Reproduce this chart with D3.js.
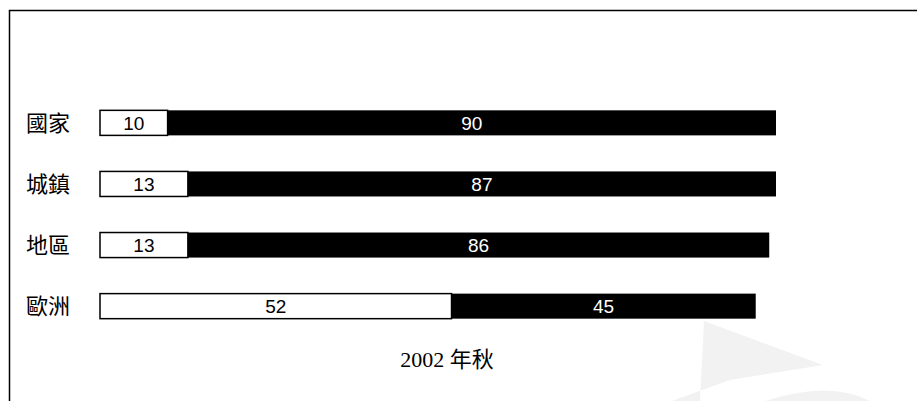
<!DOCTYPE html>
<meta charset="utf-8">
<style>
  body { margin: 0; background: #fff; }
</style>
<svg width="917" height="401"></svg>
<script src="https://d3js.org/d3.v7.min.js"></script>
<script>
  // data
  const categories = ['國家', '城鎮', '地區', '歐洲']
  const whiteValues = [10, 13, 13, 52]
  const blackValues = [90, 87, 86, 45]
  const title = '2002 年秋'

  const width = 917
  const height = 401

  const svg = d3.select('svg')
    .attr('width', width)
    .attr('height', height)

  // frame (right and bottom run off the picture)
  svg.append('path')
    .attr('d', 'M9.5,' + (height + 2) + 'V10.5H' + (width + 2))
    .attr('fill', 'none')
    .attr('stroke', '#000')
    .attr('stroke-width', 1.5)

  // faint watermark in the lower right
  const wm = svg.append('g').attr('fill', '#f2f2f2')
  wm.append('path').attr('d', 'M704,321 L823,365 L730,380 L672,401 L700,401 Z')
  wm.append('path').attr('d', 'M765,401 Q830,380 870,401 Z')

  const x = d3.scaleLinear()
    .domain([0, 100])
    .range([100, 776])

  const y = d3.scaleBand()
    .domain(categories)
    .range([92, 337])
    .paddingInner(0.59)
    .paddingOuter(0.3)

  const rows = categories.map((c, i) => ({ cat: c, w: whiteValues[i], b: blackValues[i] }))

  const row = svg.append('g')
    .selectAll('g')
    .data(rows)
    .enter().append('g')

  // category labels
  row.append('text')
    .attr('x', 26)
    .attr('y', d => y(d.cat) + y.bandwidth() / 2)
    .attr('dy', '0.36em')
    .attr('font-family', '"Noto Sans CJK TC", sans-serif')
    .attr('font-size', 22)
    .text(d => d.cat)

  // white segment
  row.append('rect')
    .attr('x', x(0))
    .attr('y', d => y(d.cat))
    .attr('width', d => x(d.w) - x(0))
    .attr('height', y.bandwidth())
    .attr('fill', '#fff')
    .attr('stroke', '#000')
    .attr('stroke-width', 1.5)

  // black segment
  row.append('rect')
    .attr('x', d => x(d.w))
    .attr('y', d => y(d.cat))
    .attr('width', d => x(d.w + d.b) - x(d.w))
    .attr('height', y.bandwidth())
    .attr('fill', '#000')

  // value labels
  row.append('text')
    .attr('x', d => (x(0) + x(d.w)) / 2)
    .attr('y', d => y(d.cat) + y.bandwidth() / 2)
    .attr('dy', '0.36em')
    .attr('text-anchor', 'middle')
    .attr('font-family', '"Liberation Sans", Arial, sans-serif')
    .attr('font-size', 19)
    .attr('fill', '#000')
    .text(d => d.w)

  row.append('text')
    .attr('x', d => (x(d.w) + x(d.w + d.b)) / 2)
    .attr('y', d => y(d.cat) + y.bandwidth() / 2)
    .attr('dy', '0.36em')
    .attr('text-anchor', 'middle')
    .attr('font-family', '"Liberation Sans", Arial, sans-serif')
    .attr('font-size', 19)
    .attr('fill', '#fff')
    .text(d => d.b)

  // title under the bars
  svg.append('text')
    .attr('x', 447)
    .attr('y', 367)
    .attr('text-anchor', 'middle')
    .attr('font-family', '"Liberation Serif", "Noto Sans CJK TC", serif')
    .attr('font-size', 22)
    .text(title)
</script>
